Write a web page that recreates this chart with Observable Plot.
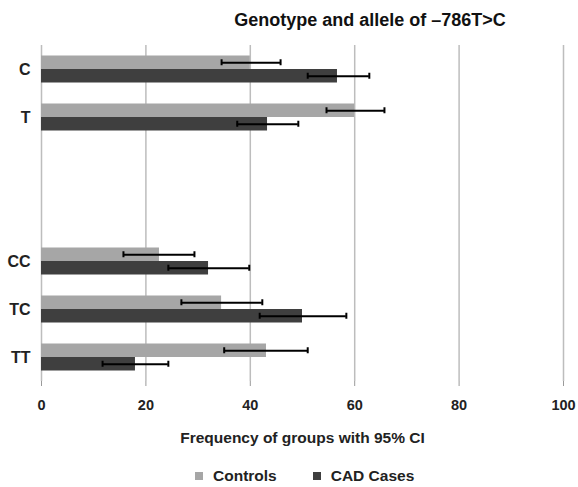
<!DOCTYPE html>
<html>
<head>
<meta charset="utf-8">
<script src="https://cdn.jsdelivr.net/npm/d3@7"></script>
<script src="https://cdn.jsdelivr.net/npm/@observablehq/plot@0.6"></script>
<style>
  html, body { margin: 0; padding: 0; background: #fff; }
  body { width: 578px; height: 487px; font-family: "Liberation Sans", Arial, sans-serif; position: relative; overflow: hidden; }
  #title { position: absolute; left: 0; top: 10px; width: 578px; padding-left: 162px; box-sizing: border-box; text-align: center; font-weight: bold; font-size: 18px; color: #111; }
  #chart { position: absolute; left: 0; top: 45px; }
  #legend { position: absolute; top: 467px; left: 195px; display: flex; gap: 36px; font-size: 15.5px; font-weight: bold; color: #222; }
  .item { display: flex; align-items: center; gap: 10px; }
  .sw { width: 8px; height: 8px; display: inline-block; }
</style>
</head>
<body>
<div id="title">Genotype and allele of –786T&gt;C</div>
<div id="chart"></div>
<div id="legend"></div>
<script>
// Categories (top to bottom); two blank slots separate alleles from genotypes
const categories = ["C", "T", " ", "  ", "CC", "TC", "TT"];
const dataCategories = ["C", "T", "CC", "TC", "TT"];
const seriesNames = ["Controls", "CAD Cases"];
const seriesColors = ["#a6a6a6", "#3f3f3f"];

// Frequencies (%) with 95% CI
const controlsValue = [40.0, 60.0, 22.6, 34.5, 43.1];
const controlsLow   = [34.5, 54.6, 15.7, 26.8, 35.0];
const controlsHigh  = [45.8, 65.7, 29.3, 42.3, 51.0];

const casesValue = [56.7, 43.3, 32.0, 50.0, 18.0];
const casesLow   = [51.0, 37.5, 24.3, 41.8, 11.7];
const casesHigh  = [62.8, 49.2, 39.8, 58.4, 24.3];

const xTicks = [0, 20, 40, 60, 80, 100];

const controls = dataCategories.map((c, i) => ({cat: c, value: controlsValue[i], lo: controlsLow[i], hi: controlsHigh[i]}));
const cases = dataCategories.map((c, i) => ({cat: c, value: casesValue[i], lo: casesLow[i], hi: casesHigh[i]}));

const plotHeight = 336;
const step = plotHeight / categories.length;
const barH = 13.5;
const capH = 6;

function seriesMarks(data, color, which) {
  const dy = which === 0 ? -barH / 2 : barH / 2;
  const inTop = which === 0 ? step / 2 - barH : step / 2;
  const inBot = which === 0 ? step / 2 : step / 2 - barH;
  const capIn = (step - capH) / 2;
  return [
    Plot.barX(data, {y: "cat", x: "value", fill: color, insetTop: inTop, insetBottom: inBot}),
    Plot.ruleY(data, {y: "cat", x1: "lo", x2: "hi", stroke: "#000", strokeWidth: 2, dy}),
    Plot.tickX(data, {y: "cat", x: "lo", stroke: "#000", strokeWidth: 2, dy, insetTop: capIn, insetBottom: capIn}),
    Plot.tickX(data, {y: "cat", x: "hi", stroke: "#000", strokeWidth: 2, dy, insetTop: capIn, insetBottom: capIn})
  ];
}

const chart = Plot.plot({
  width: 578,
  height: plotHeight + 80,
  marginTop: 0,
  marginBottom: 80,
  marginLeft: 41,
  marginRight: 15,
  style: {fontFamily: "Liberation Sans, Arial, sans-serif", background: "#fff"},
  x: {domain: [0, 100]},
  y: {domain: categories, padding: 0},
  marks: [
    Plot.gridX(xTicks, {stroke: "#bdbdbd", strokeOpacity: 1, strokeWidth: 1.5}),
    ...seriesMarks(controls, seriesColors[0], 0),
    ...seriesMarks(cases, seriesColors[1], 1),
    Plot.axisY({tickSize: 0, tickPadding: 11, fontSize: 16, fontWeight: "bold", fill: "#222", label: null}),
    Plot.axisX({ticks: xTicks, tickSize: 5, tickPadding: 13, stroke: "#9a9a9a", fontSize: 14.5, fontWeight: "bold", fill: "#222",
      label: "Frequency of groups with 95% CI", labelAnchor: "center", labelArrow: "none", labelOffset: 61}),
    Plot.ruleY([0], {frameAnchor: "bottom", stroke: "#9a9a9a"})
  ]
});
document.getElementById("chart").appendChild(chart);

// style the x-axis label and make sure no arrow is shown
chart.querySelectorAll("g[aria-label='x-axis label'] text").forEach(t => {
  t.textContent = t.textContent.replace(/\s*[→←]\s*/g, "");
  t.setAttribute("font-size", "15.5"); t.setAttribute("font-weight", "bold"); t.setAttribute("fill", "#222");
});

const legend = document.getElementById("legend");
seriesNames.forEach((name, i) => {
  const item = document.createElement("div");
  item.className = "item";
  const sw = document.createElement("span");
  sw.className = "sw";
  sw.style.background = seriesColors[i];
  const label = document.createElement("span");
  label.textContent = name;
  item.appendChild(sw); item.appendChild(label);
  legend.appendChild(item);
});
</script>
</body>
</html>
